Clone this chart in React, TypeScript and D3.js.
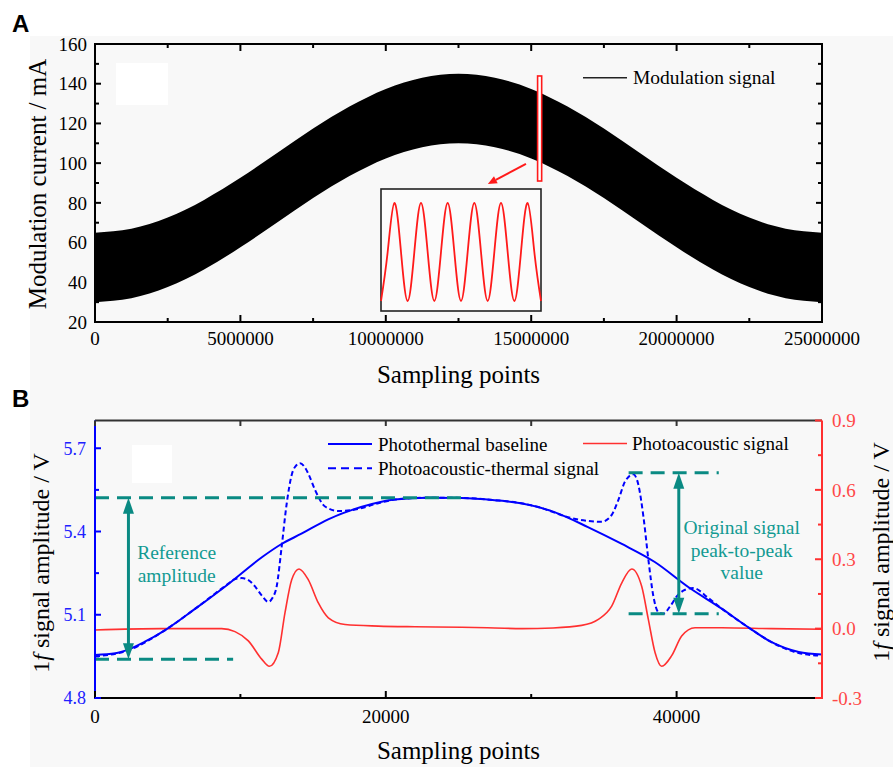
import React from "react";
import * as d3 from "d3";

// ---------- Panel A data ----------
const bandX = [0, 1250000, 2500000, 3750000, 5000000, 6250000, 7500000, 8750000, 10000000, 11250000, 12500000,
  13750000, 15000000, 16250000, 17500000, 18750000, 20000000, 21250000, 22500000, 23750000, 25000000];
const bandUpper = [65, 67, 72.6, 81.5, 92.6, 105, 117.4, 128.5, 137.4, 143, 145, 143, 137.4, 128.5, 117.4, 105, 92.6, 81.5, 72.6, 67, 65];
const bandLower = [30, 32, 37.6, 46.5, 57.6, 70, 82.4, 93.5, 102.4, 108, 110, 108, 102.4, 93.5, 82.4, 70, 57.6, 46.5, 37.6, 32, 30];
const insetWave = [-1, 0, 1, 0, -1, 0, 1, 0, -1, 0, 1, 0, -1, 0, 1, 0, -1, 0, 1, 0, -1, 0, 1, 0, -1];
const aXTicks = [0, 5000000, 10000000, 15000000, 20000000, 25000000];
const aXMinor = [2500000, 7500000, 12500000, 17500000, 22500000];
const aYTicks = [20, 40, 60, 80, 100, 120, 140, 160];
const aYMinor = [30, 50, 70, 90, 110, 130, 150];

// ---------- Panel B data ----------
const baseX = [0, 1400, 2300, 3400, 4800, 6900, 9200, 11500, 12800, 14200, 16000, 18300, 20600, 22900, 25200, 27500,
  29300, 31600, 33900, 36200, 38500, 40800, 43100, 44900, 46500, 48400, 50000];
const baseY = [4.955, 4.961, 4.975, 5.002, 5.044, 5.122, 5.212, 5.308, 5.354, 5.392, 5.443, 5.488, 5.515, 5.522, 5.521, 5.513,
  5.502, 5.47, 5.416, 5.356, 5.29, 5.2, 5.122, 5.056, 5.002, 4.966, 4.957];

const patX = [0, 2300, 4800, 6900, 9170, 9600, 10087, 10550, 11004, 11460, 11922, 12200, 12495, 12840, 13183, 13527, 13800,
  14100, 14400, 14674, 15132, 15820, 16738, 17885, 19490, 20634, 22900, 25200, 27500, 29300, 30500, 31600, 32787, 33933,
  34850, 35538, 35997, 36455, 37028, 37373, 37717, 38061, 38405, 38749, 39092, 39551, 40010, 40583, 41156, 42188, 43100,
  44900, 46500, 48400, 50000];
const patY = [4.95, 4.972, 5.044, 5.122, 5.212, 5.228, 5.232, 5.225, 5.202, 5.17, 5.146, 5.16, 5.202, 5.346, 5.5, 5.604, 5.636,
  5.646, 5.634, 5.608, 5.55, 5.49, 5.474, 5.479, 5.502, 5.515, 5.522, 5.521, 5.513, 5.502, 5.488, 5.468, 5.448, 5.438,
  5.435, 5.46, 5.514, 5.58, 5.606, 5.568, 5.454, 5.298, 5.166, 5.109, 5.104, 5.13, 5.166, 5.19, 5.196, 5.16, 5.122,
  5.056, 5.002, 4.962, 4.952];

const paX = [0, 4585, 8712, 9629, 10546, 11464, 11990, 12610, 13068, 13528, 14031, 14674, 15360, 16049, 17196, 19488, 22000,
  25220, 27500, 29347, 31500, 33472, 34618, 35536, 36224, 36912, 37598, 38056, 38517, 38975, 39662, 40349, 41266, 43101,
  46500, 50000];
const paY = [-0.006, 0.0, 0.0, -0.013, -0.053, -0.132, -0.163, -0.103, 0.069, 0.211, 0.258, 0.211, 0.111, 0.047, 0.018, 0.011,
  0.008, 0.006, 0.003, 0.0, 0.003, 0.014, 0.04, 0.097, 0.197, 0.258, 0.183, 0.04, -0.103, -0.163, -0.117, -0.032, 0.004,
  0.004, 0.0, -0.003];

const bXTicks = [0, 20000, 40000];
const bXMinor = [10000, 30000];
const bLTicks = [4.8, 5.1, 5.4, 5.7];
const bLMinor = [4.95, 5.25, 5.55];
const bRTicks = [-0.3, 0.0, 0.3, 0.6, 0.9];
const bRMinor = [-0.15, 0.15, 0.45, 0.75];

// annotations (data coordinates)
const refTop = 5.522, refBottom = 4.94, refArrowX = 2300, refLineEnd = 25500, refBottomEnd = 9500;
const ppTop = 5.612, ppBottom = 5.104, ppArrowX = 40150, ppX0 = 36700, ppX1 = 42900;

const SERIF = "'Liberation Serif', 'Times New Roman', serif";
const SANS = "'Liberation Sans', Arial, sans-serif";
const TEAL = "#0a8a83";
const TEAL_TXT = "#129a92";
const BLUE = "#0000ff";
const RED = "#ff3030";

export default function App() {
  // Panel A scales
  const xA = d3.scaleLinear().domain([0, 25000000]).range([95, 822]);
  const yA = d3.scaleLinear().domain([20, 160]).range([322, 44]);
  // Panel B scales
  const xB = d3.scaleLinear().domain([0, 50000]).range([95, 822]);
  const yBL = d3.scaleLinear().domain([4.8, 5.8]).range([698, 420.5]);
  const yBR = d3.scaleLinear().domain([-0.3, 0.9]).range([698, 420.5]);

  const band = d3.area<number>()
    .x((_, i) => xA(bandX[i]))
    .y0((_, i) => yA(bandLower[i]))
    .y1((_, i) => yA(bandUpper[i]))
    .curve(d3.curveNatural)(bandX) || "";

  // inset
  const insetX = d3.scaleLinear().domain([0, insetWave.length - 1]).range([381, 541]);
  const insetY = d3.scaleLinear().domain([-1, 1]).range([301, 203]);
  const insetPath = d3.line<number>().x((_, i) => insetX(i)).y(d => insetY(d)).curve(d3.curveNatural)(insetWave) || "";

  const baseLine = d3.line<number>().x((_, i) => xB(baseX[i])).y(d => yBL(d)).curve(d3.curveMonotoneX)(baseY) || "";
  const patLine = d3.line<number>().x((_, i) => xB(patX[i])).y(d => yBL(d)).curve(d3.curveMonotoneX)(patY) || "";
  const paLine = d3.line<number>().x((_, i) => xB(paX[i])).y(d => yBR(d)).curve(d3.curveMonotoneX)(paY) || "";

  const tickFont = 19;

  const arrowV = (x: number, y1: number, y2: number, key: string) => {
    // double-headed vertical arrow from y1 (top) to y2 (bottom)
    const hl = 16, hw = 5.5;
    return (
      <g key={key}>
        <line x1={x} x2={x} y1={y1 + hl - 2} y2={y2 - hl + 2} stroke={TEAL} strokeWidth={3} />
        <polygon points={`${x},${y1} ${x - hw},${y1 + hl} ${x + hw},${y1 + hl}`} fill={TEAL} />
        <polygon points={`${x},${y2} ${x - hw},${y2 - hl} ${x + hw},${y2 - hl}`} fill={TEAL} />
      </g>
    );
  };

  // red arrow in panel A
  const ra0 = [xA(14820000), yA(99.6)];
  const ra1 = [xA(13510000), yA(89.5)];
  const ang = Math.atan2(ra1[1] - ra0[1], ra1[0] - ra0[0]);
  const ah = 9, aw = 4;
  const headBase = [ra1[0] - ah * Math.cos(ang), ra1[1] - ah * Math.sin(ang)];
  const headPts = [
    ra1,
    [headBase[0] + aw * Math.sin(ang), headBase[1] - aw * Math.cos(ang)],
    [headBase[0] - aw * Math.sin(ang), headBase[1] + aw * Math.cos(ang)],
  ].map(p => p.join(",")).join(" ");

  return (
    <svg width={893} height={767} style={{ position: "absolute", left: 0, top: 0 }} fontFamily={SERIF}>
      <rect x={0} y={0} width={893} height={767} fill="#ffffff" />
      <rect x={30} y={36} width={863} height={731} fill="#f8f8f8" />

      {/* ================= Panel A ================= */}
      <text x={12} y={32} fontFamily={SANS} fontWeight="bold" fontSize={24} fill="#000">A</text>
      <rect x={116} y={63} width={52} height={42} fill="#ffffff" />
      <path d={band} fill="#000" />

      {/* frame */}
      <rect x={95} y={44} width={727} height={278} fill="none" stroke="#000" strokeWidth={2} />
      {aXTicks.map(t => (
        <g key={"axt" + t}>
          <line x1={xA(t)} x2={xA(t)} y1={322} y2={315} stroke="#000" strokeWidth={2} />
          <line x1={xA(t)} x2={xA(t)} y1={44} y2={51} stroke="#000" strokeWidth={2} />
          <text x={xA(t)} y={345} textAnchor="middle" fontSize={tickFont}>{t}</text>
        </g>
      ))}
      {aXMinor.map(t => (
        <g key={"axm" + t}>
          <line x1={xA(t)} x2={xA(t)} y1={322} y2={318} stroke="#000" strokeWidth={2} />
          <line x1={xA(t)} x2={xA(t)} y1={44} y2={48} stroke="#000" strokeWidth={2} />
        </g>
      ))}
      {aYTicks.map(t => (
        <g key={"ayt" + t}>
          <line x1={95} x2={101} y1={yA(t)} y2={yA(t)} stroke="#000" strokeWidth={2} />
          <line x1={822} x2={816} y1={yA(t)} y2={yA(t)} stroke="#000" strokeWidth={2} />
          <text x={87} y={yA(t)} dy="0.35em" textAnchor="end" fontSize={tickFont}>{t}</text>
        </g>
      ))}
      {aYMinor.map(t => (
        <g key={"aym" + t}>
          <line x1={95} x2={99} y1={yA(t)} y2={yA(t)} stroke="#000" strokeWidth={2} />
          <line x1={822} x2={818} y1={yA(t)} y2={yA(t)} stroke="#000" strokeWidth={2} />
        </g>
      ))}
      <text x={458.5} y={383} textAnchor="middle" fontSize={25}>Sampling points</text>
      <text transform="translate(46,184) rotate(-90)" textAnchor="middle" fontSize={25}>Modulation current / mA</text>

      {/* legend A */}
      <line x1={583} x2={627} y1={77.7} y2={77.7} stroke="#222" strokeWidth={1.5} />
      <text x={633} y={84} fontSize={19.5}>Modulation signal</text>

      {/* zoom rect + arrow + inset */}
      <rect x={xA(15220000)} y={yA(143.9)} width={xA(15360000) - xA(15220000)} height={yA(91) - yA(143.9)}
        fill="#ffffff" stroke="#ff1a1a" strokeWidth={1.6} />
      <line x1={ra0[0]} y1={ra0[1]} x2={headBase[0]} y2={headBase[1]} stroke="#ff1a1a" strokeWidth={2} />
      <polygon points={headPts} fill="#ff1a1a" />
      <rect x={381} y={189} width={160} height={122} fill="#fbfbfb" stroke="#222" strokeWidth={1.6} />
      <path d={insetPath} fill="none" stroke="#ff1a1a" strokeWidth={1.8} />

      {/* ================= Panel B ================= */}
      <text x={12} y={407} fontFamily={SANS} fontWeight="bold" fontSize={24} fill="#000">B</text>
      <rect x={132} y={445} width={40} height={38} fill="#ffffff" />

      {/* curves */}
      <path d={paLine} fill="none" stroke={RED} strokeWidth={1.6} />
      <path d={baseLine} fill="none" stroke={BLUE} strokeWidth={2} />
      <path d={patLine} fill="none" stroke={BLUE} strokeWidth={2} strokeDasharray="5,3" />

      {/* teal annotations */}
      <line x1={xB(0)} x2={xB(refLineEnd)} y1={yBL(refTop)} y2={yBL(refTop)} stroke={TEAL} strokeWidth={3} strokeDasharray="14,8" />
      <line x1={xB(0)} x2={xB(refBottomEnd)} y1={yBL(refBottom)} y2={yBL(refBottom)} stroke={TEAL} strokeWidth={3} strokeDasharray="14,8" />
      {arrowV(xB(refArrowX), yBL(refTop), yBL(refBottom), "ref")}
      <line x1={xB(ppX0)} x2={xB(ppX1)} y1={yBL(ppTop)} y2={yBL(ppTop)} stroke={TEAL} strokeWidth={3} strokeDasharray="14,8" />
      <line x1={xB(ppX0)} x2={xB(ppX1)} y1={yBL(ppBottom)} y2={yBL(ppBottom)} stroke={TEAL} strokeWidth={3} strokeDasharray="14,8" />
      {arrowV(xB(ppArrowX), yBL(ppTop), yBL(ppBottom), "pp")}

      <text x={176.7} y={559} textAnchor="middle" fontSize={19.5} fill={TEAL_TXT}>Reference</text>
      <text x={176.7} y={582} textAnchor="middle" fontSize={19.5} fill={TEAL_TXT}>amplitude</text>
      <text x={741.7} y={533.5} textAnchor="middle" fontSize={19.5} fill={TEAL_TXT}>Original signal</text>
      <text x={741.7} y={556.5} textAnchor="middle" fontSize={19.5} fill={TEAL_TXT}>peak-to-peak</text>
      <text x={741.7} y={579} textAnchor="middle" fontSize={19.5} fill={TEAL_TXT}>value</text>

      {/* axes */}
      <line x1={95} x2={822} y1={420.5} y2={420.5} stroke="#333" strokeWidth={2} />
      <line x1={95} x2={822} y1={698} y2={698} stroke="#000" strokeWidth={2} />
      <line x1={95} x2={95} y1={420.5} y2={699} stroke={BLUE} strokeWidth={2} />
      <line x1={822} x2={822} y1={420.5} y2={699} stroke={RED} strokeWidth={2} />
      {bXTicks.map(t => (
        <g key={"bxt" + t}>
          <line x1={xB(t)} x2={xB(t)} y1={698} y2={691} stroke="#000" strokeWidth={2} />
          <line x1={xB(t)} x2={xB(t)} y1={420.5} y2={426} stroke="#333" strokeWidth={2} />
          <text x={xB(t)} y={723} textAnchor="middle" fontSize={tickFont}>{t}</text>
        </g>
      ))}
      {bXMinor.map(t => (
        <g key={"bxm" + t}>
          <line x1={xB(t)} x2={xB(t)} y1={698} y2={694} stroke="#000" strokeWidth={2} />
          <line x1={xB(t)} x2={xB(t)} y1={420.5} y2={426} stroke="#333" strokeWidth={2} />
        </g>
      ))}
      {bLTicks.map(t => (
        <g key={"blt" + t}>
          <line x1={95} x2={101} y1={yBL(t)} y2={yBL(t)} stroke={BLUE} strokeWidth={2} />
          <text x={86} y={yBL(t)} dy="0.35em" textAnchor="end" fontSize={18} fill="#2020ff">{t.toFixed(1)}</text>
        </g>
      ))}
      {bLMinor.map(t => (
        <line key={"blm" + t} x1={95} x2={99} y1={yBL(t)} y2={yBL(t)} stroke={BLUE} strokeWidth={2} />
      ))}
      {bRTicks.map(t => (
        <g key={"brt" + t}>
          <line x1={822} x2={815} y1={yBR(t)} y2={yBR(t)} stroke={RED} strokeWidth={2} />
          <text x={832} y={yBR(t)} dy="0.35em" textAnchor="start" fontSize={tickFont} fill="#ff4848">{t.toFixed(1)}</text>
        </g>
      ))}
      {bRMinor.map(t => (
        <line key={"brm" + t} x1={822} x2={818} y1={yBR(t)} y2={yBR(t)} stroke={RED} strokeWidth={2} />
      ))}

      <text x={458.5} y={759} textAnchor="middle" fontSize={25}>Sampling points</text>
      <text transform="translate(49,563) rotate(-90)" textAnchor="middle" fontSize={24}>
        1<tspan fontStyle="italic">f</tspan> signal amplitude / V
      </text>
      <text transform="translate(889,552) rotate(-90)" textAnchor="middle" fontSize={24}>
        1<tspan fontStyle="italic">f</tspan> signal amplitude / V
      </text>

      {/* legend B */}
      <line x1={328} x2={372} y1={444} y2={444} stroke={BLUE} strokeWidth={2} />
      <text x={378} y={450.5} fontSize={19}>Photothermal baseline</text>
      <line x1={328} x2={372} y1={468.3} y2={468.3} stroke={BLUE} strokeWidth={2} strokeDasharray="8,5" />
      <text x={378} y={474.5} fontSize={19}>Photoacoustic-thermal signal</text>
      <line x1={583} x2={627} y1={443.5} y2={443.5} stroke={RED} strokeWidth={1.6} />
      <text x={632} y={450} fontSize={19}>Photoacoustic signal</text>
    </svg>
  );
}
